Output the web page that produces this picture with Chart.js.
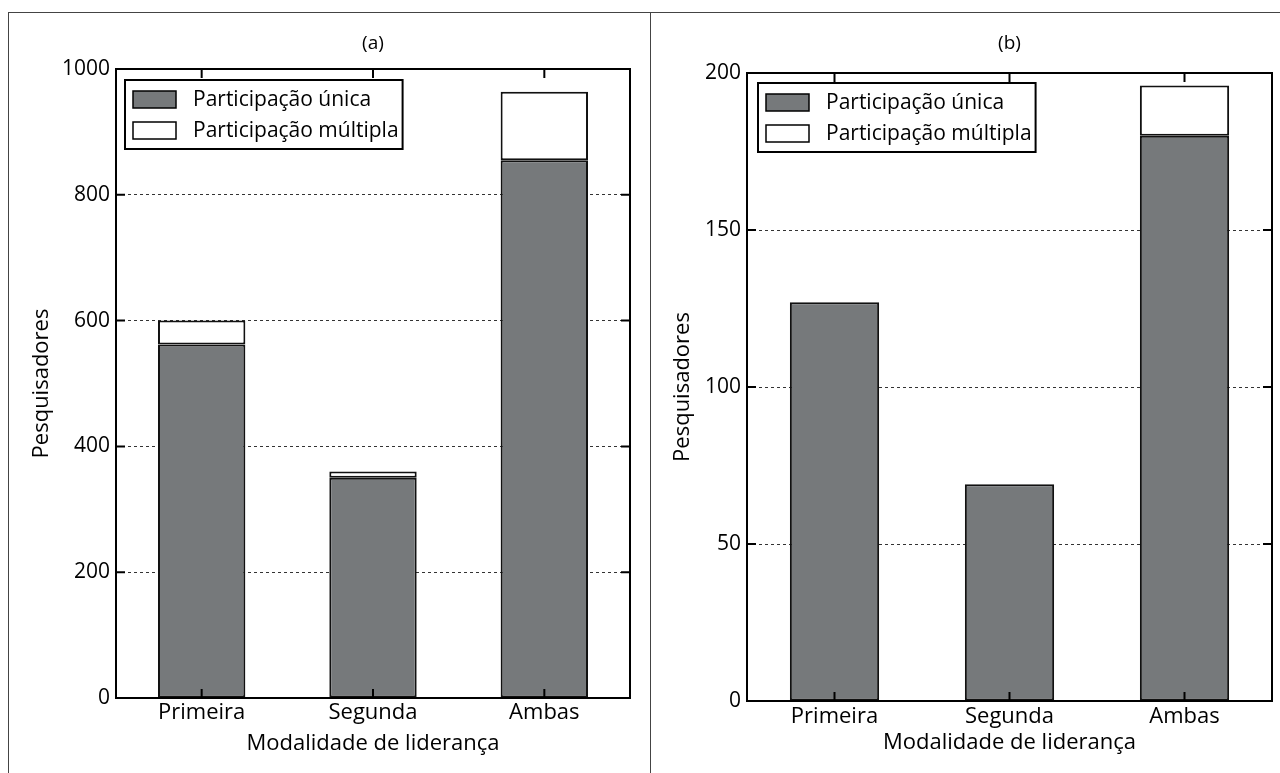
<!DOCTYPE html>
<html><head><meta charset="utf-8">
<script src="https://cdn.jsdelivr.net/npm/chart.js@4.4.1/dist/chart.umd.min.js"></script>
<style>
html,body{margin:0;padding:0;background:#fff;}
body{width:1280px;height:773px;position:relative;overflow:hidden;}
#frame{position:absolute;left:8px;top:12px;width:1300px;height:800px;border:1px solid #444;box-sizing:border-box;}
#divider{position:absolute;left:650px;top:12px;width:1px;height:800px;background:#444;}
.wrap{position:absolute;top:0;height:773px;}
.wrap canvas{display:block;}
#wa{left:0;width:650px;}
#wb{left:650px;width:630px;}
</style></head><body>
<div id="frame"></div><div id="divider"></div>
<div class="wrap" id="wa"><canvas id="ca" width="650" height="773"></canvas></div>
<div class="wrap" id="wb"><canvas id="cb" width="630" height="773"></canvas></div>
<script>
// ---- data ----
const categories = ['Primeira', 'Segunda', 'Ambas'];
const seriesNames = ['Participação única', 'Participação múltipla'];
const panelA_unica = [562, 350, 855];
const panelA_multipla = [38, 10, 109];
const panelB_unica = [127, 69, 180];
const panelB_multipla = [0, 0, 16];
const panelA_yTicks = [0, 200, 400, 600, 800, 1000];
const panelB_yTicks = [0, 50, 100, 150, 200];
const panelTitles = ['(a)', '(b)'];
const xTitle = 'Modalidade de liderança';
const yTitle = 'Pesquisadores';

Chart.defaults.font.family = "'Open Sans', sans-serif";
Chart.defaults.color = '#000';

const framePlugin = {
  id: 'frameTicks',
  afterDraw(chart, args, opts) {
    const {ctx, chartArea: a, scales: {x, y}} = chart;
    ctx.save();
    ctx.strokeStyle = '#000';
    ctx.lineWidth = 2;
    ctx.strokeRect(a.left, a.top, a.right - a.left, a.bottom - a.top);
    const L = 9;
    ctx.beginPath();
    y.ticks.forEach((t, i) => {
      const py = y.getPixelForTick(i);
      ctx.moveTo(a.left, py); ctx.lineTo(a.left + L, py);
      ctx.moveTo(a.right, py); ctx.lineTo(a.right - L, py);
    });
    x.ticks.forEach((t, i) => {
      const px = x.getPixelForTick(i);
      ctx.moveTo(px, a.bottom); ctx.lineTo(px, a.bottom - L);
      ctx.moveTo(px, a.top); ctx.lineTo(px, a.top + L);
    });
    ctx.stroke();
    // legend box
    const items = chart.data.datasets;
    ctx.font = "21px 'Open Sans', sans-serif";
    const sw = 43, sh = 17, pad = 8, rowH = 31, gap = 17;
    const bx = a.left + opts.dx, by = a.top + opts.dy;
    let maxW = 0;
    items.forEach(d => { maxW = Math.max(maxW, ctx.measureText(d.label).width); });
    const bw = pad + sw + gap + maxW + 4, bh = 69;
    ctx.fillStyle = '#fff';
    ctx.fillRect(bx, by, bw, bh);
    ctx.lineWidth = 2;
    ctx.strokeStyle = '#000';
    ctx.strokeRect(bx, by, bw, bh);
    ctx.lineWidth = 1.5;
    items.forEach((d, i) => {
      const sy = by + 11 + i * rowH;
      ctx.fillStyle = d.backgroundColor;
      ctx.fillRect(bx + pad, sy, sw, sh);
      ctx.strokeRect(bx + pad, sy, sw, sh);
      ctx.fillStyle = '#000';
      ctx.textBaseline = 'middle';
      ctx.textAlign = 'left';
      ctx.fillText(d.label, bx + pad + sw + gap, sy + sh / 2 + 1);
    });
    ctx.restore();
  }
};

function makeChart(id, title, unica, multipla, yTicks, L) {
  const yMax = yTicks[yTicks.length - 1];
  return new Chart(document.getElementById(id), {
    type: 'bar',
    data: {
      labels: categories,
      datasets: [
        {label: seriesNames[0], data: unica, backgroundColor: '#76797b', borderColor: '#111',
         borderWidth: 2, borderSkipped: false, barPercentage: 0.51, categoryPercentage: 1},
        {label: seriesNames[1], data: multipla, backgroundColor: '#ffffff', borderColor: '#111',
         borderWidth: 2, borderSkipped: false, barPercentage: 0.51, categoryPercentage: 1}
      ]
    },
    options: {
      responsive: false,
      animation: false,
      devicePixelRatio: 1,
      layout: {padding: {left: L.padLeft, right: L.padRight, top: 0, bottom: 0}},
      plugins: {
        legend: {display: false},
        tooltip: {enabled: false},
        title: {display: true, text: title, fullSize: false, color: '#000',
                font: {size: 19, weight: 'normal'}, padding: {top: 32, bottom: L.titleBottom}},
        frameTicks: {dx: L.legDx, dy: L.legDy}
      },
      scales: {
        x: {
          stacked: true, offset: true,
          grid: {display: false, drawTicks: false},
          border: {display: false},
          ticks: {padding: L.xTickPad, color: '#000', font: {size: 22}, maxRotation: 0},
          title: {display: true, text: xTitle, color: '#000', font: {size: 22},
                  padding: {top: 0, bottom: L.xTitleBottom}},
          afterFit: s => { s.height = L.xHeight; }
        },
        y: {
          stacked: true, min: 0, max: yMax, z: 1,
          afterBuildTicks: s => { s.ticks = yTicks.map(v => ({value: v})); },
          ticks: {padding: 6, color: '#000', font: {size: 21}, callback: v => String(v)},
          grid: {drawTicks: false, lineWidth: 1,
                 color: c => (c.tick && (c.tick.value === 0 || c.tick.value === yMax)) ? 'rgba(0,0,0,0)' : '#333'},
          border: {display: false, dash: [3, 3]},
          title: {display: true, text: yTitle, color: '#000', font: {size: 22}, padding: {top: 0, bottom: 0}},
          afterFit: s => { s.width = L.yWidth; }
        }
      }
    },
    plugins: [framePlugin]
  });
}

makeChart('ca', panelTitles[0], panelA_unica, panelA_multipla, panelA_yTicks,
  {padLeft: 29, padRight: 20, yWidth: 87, titleBottom: 14.2, xHeight: 75, xTickPad: 2, xTitleBottom: 16, legDx: 9, legDy: 11});
makeChart('cb', panelTitles[1], panelB_unica, panelB_multipla, panelB_yTicks,
  {padLeft: 20, padRight: 8, yWidth: 77, titleBottom: 18.2, xHeight: 72, xTickPad: 3, xTitleBottom: 17, legDx: 11, legDy: 10});
</script>
</body></html>
